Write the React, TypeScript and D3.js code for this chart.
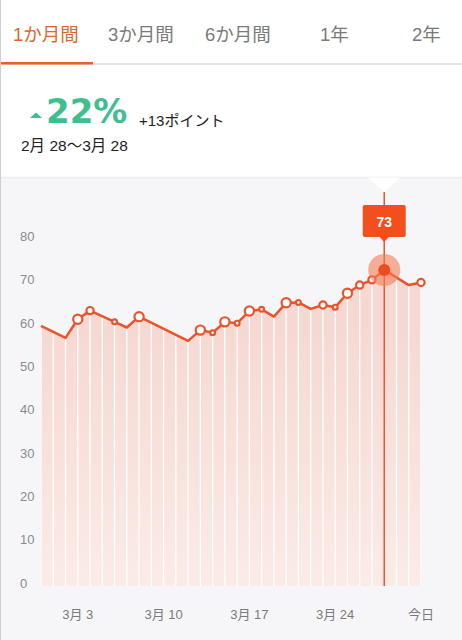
import React, { useEffect, useRef } from "react";
import * as d3 from "d3";

// 2/28 .. 今日 (3/31), one entry per day; null = no record that day
const dayIndex = d3.range(32);
const values: (number | null)[] = [
  60.1, null, 57.3, 61.6, 63.6, null, 61.0, 59.7, 62.2, null, null, null,
  56.6, 59.1, 58.5, 61.0, 60.7, 63.5, 63.9, 62.2, 65.4, 65.5, 64.0, 64.9,
  64.4, 67.6, 69.5, 70.7, 73, null, 69.5, 70.1,
];
// marker size per day: 0 none, 1 small, 2 medium, 3 large
const markers = [
  0, 0, 0, 3, 2, 0, 1, 0, 3, 0, 0, 0, 0, 3, 1, 3, 1, 3, 1, 0, 3, 1, 0, 2, 1, 3,
  2, 2, 0, 0, 0, 2,
];
const highlightDay = 28;
const xTickDays = [3, 10, 17, 24, 31];
const xTickLabels = ["3月 3", "3月 10", "3月 17", "3月 24", "今日"];
const yTicks = [0, 10, 20, 30, 40, 50, 60, 70, 80];
const tabs = ["1か月間", "3か月間", "6か月間", "1年", "2年"];
const tabX = [13, 108, 205, 320, 412];

const W = 462;
const H = 640;
const FONT = "'Liberation Sans', 'Noto Sans CJK JP', sans-serif";

const App: React.FC = () => {
  const svgRef = useRef<SVGSVGElement | null>(null);

  useEffect(() => {
    if (!svgRef.current) return;
    const svg = d3.select(svgRef.current);
    svg.selectAll("*").remove();

    const orange = "#e9542c";

    // fond
    svg.append("rect").attr("width", W).attr("height", H).attr("fill", "#fff");
    svg
      .append("rect")
      .attr("y", 177.5)
      .attr("width", W)
      .attr("height", H - 177.5)
      .attr("fill", "#f6f6f8");
    svg
      .append("line")
      .attr("x1", 0)
      .attr("x2", W)
      .attr("y1", 177.5)
      .attr("y2", 177.5)
      .style("stroke", "#ececef")
      .style("stroke-width", 1.5);

    // onglets
    tabs.forEach((t, i) => {
      svg
        .append("text")
        .attr("x", tabX[i])
        .attr("y", 41)
        .attr("font-family", FONT)
        .attr("font-size", 18.5)
        .attr("fill", i === 0 ? "#e0642a" : "#7a7a7a")
        .text(t);
    });
    svg
      .append("line")
      .attr("x1", 0)
      .attr("x2", W)
      .attr("y1", 64)
      .attr("y2", 64)
      .style("stroke", "#dcdcdc")
      .style("stroke-width", 1.5);
    svg
      .append("rect")
      .attr("x", 0)
      .attr("y", 62)
      .attr("width", 93)
      .attr("height", 2.5)
      .attr("fill", "#e0642a");

    // entête
    svg
      .append("path")
      .attr("d", "M30,118 L36,112.5 L42,118 Z")
      .attr("fill", "#3dbf90");
    svg
      .append("text")
      .attr("x", 46)
      .attr("y", 123)
      .attr("font-family", "'DejaVu Sans', sans-serif")
      .attr("font-size", 34)
      .attr("font-weight", "bold")
      .attr("fill", "#3dbf90")
      .text("22%");
    svg
      .append("text")
      .attr("x", 139)
      .attr("y", 126)
      .attr("font-family", FONT)
      .attr("font-size", 15)
      .attr("fill", "#222")
      .text("+13ポイント");
    svg
      .append("text")
      .attr("x", 21)
      .attr("y", 151)
      .attr("font-family", FONT)
      .attr("font-size", 15.5)
      .attr("fill", "#222")
      .text("2月 28〜3月 28");

    // échelles
    const x = d3.scaleLinear().domain([0, 31]).range([41, 421]);
    const y = d3.scaleLinear().domain([0, 80]).range([586, 239.6]);

    const pts = dayIndex
      .filter((i) => values[i] !== null)
      .map((i) => ({ i, v: values[i] as number, m: markers[i] }));

    const defs = svg.append("defs");
    const grad = defs
      .append("linearGradient")
      .attr("id", "areaGrad")
      .attr("gradientUnits", "userSpaceOnUse")
      .attr("x1", 0)
      .attr("x2", 0)
      .attr("y1", y(60))
      .attr("y2", y(0));
    grad.append("stop").attr("offset", "0%").attr("stop-color", "#f6d8d2");
    grad.append("stop").attr("offset", "100%").attr("stop-color", "#fbebe7");

    const area = d3
      .area<{ i: number; v: number }>()
      .x((d) => x(d.i))
      .y0(y(0))
      .y1((d) => y(d.v));
    defs
      .append("clipPath")
      .attr("id", "areaClip")
      .append("path")
      .attr("d", area(pts)!);

    svg.append("path").attr("d", area(pts)!).attr("fill", "url(#areaGrad)");

    // séparations verticales blanches
    svg
      .append("g")
      .attr("clip-path", "url(#areaClip)")
      .selectAll("line")
      .data(dayIndex)
      .enter()
      .append("line")
      .attr("x1", (d) => x(d))
      .attr("x2", (d) => x(d))
      .attr("y1", y(80))
      .attr("y2", y(0))
      .style("stroke", "#fff")
      .style("stroke-width", 1.3);

    // axe Y
    svg
      .append("g")
      .selectAll("text")
      .data(yTicks)
      .enter()
      .append("text")
      .attr("x", 20)
      .attr("y", (d) => y(d) + 1.5)
      .attr("font-family", FONT)
      .attr("font-size", 13)
      .attr("fill", "#8a8a8e")
      .text((d) => d);

    // axe X
    svg
      .append("g")
      .selectAll("text")
      .data(xTickDays)
      .enter()
      .append("text")
      .attr("x", (d) => x(d))
      .attr("y", 619)
      .attr("text-anchor", "middle")
      .attr("font-family", FONT)
      .attr("font-size", 13)
      .attr("fill", "#7a7a7e")
      .text((d, i) => xTickLabels[i]);

    // encoche blanche + ligne verticale
    const hx = x(highlightDay);
    svg
      .append("path")
      .attr("d", `M${hx - 16},177.5 L${hx},192 L${hx + 16},177.5 Z`)
      .attr("fill", "#fff");
    svg
      .append("line")
      .attr("x1", hx)
      .attr("x2", hx)
      .attr("y1", 192)
      .attr("y2", y(0))
      .style("stroke", orange)
      .style("stroke-width", 1.5);

    // courbe
    const line = d3
      .line<{ i: number; v: number }>()
      .x((d) => x(d.i))
      .y((d) => y(d.v));
    svg
      .append("path")
      .attr("d", line(pts)!)
      .attr("fill", "none")
      .style("stroke", orange)
      .style("stroke-width", 2.5)
      .style("stroke-linejoin", "round");

    const radius = [0, 2.4, 3.6, 4.6];
    svg
      .append("g")
      .selectAll("circle")
      .data(pts.filter((d) => d.m > 0))
      .enter()
      .append("circle")
      .attr("cx", (d) => x(d.i))
      .attr("cy", (d) => y(d.v))
      .attr("r", (d) => radius[d.m])
      .attr("fill", "#fff")
      .style("stroke", orange)
      .style("stroke-width", 2.2);

    // point mis en évidence
    const hv = values[highlightDay] as number;
    svg
      .append("circle")
      .attr("cx", hx)
      .attr("cy", y(hv))
      .attr("r", 16)
      .attr("fill", "#f57d55")
      .attr("fill-opacity", 0.6);
    svg
      .append("circle")
      .attr("cx", hx)
      .attr("cy", y(hv))
      .attr("r", 6)
      .attr("fill", "#ee4b22");

    // bulle
    svg
      .append("rect")
      .attr("x", hx - 21.5)
      .attr("y", 205)
      .attr("width", 43)
      .attr("height", 32)
      .attr("rx", 2)
      .attr("fill", "#f24e1e");
    svg
      .append("path")
      .attr("d", `M${hx - 5},236.5 L${hx},242 L${hx + 5},236.5 Z`)
      .attr("fill", "#f24e1e");
    svg
      .append("text")
      .attr("x", hx)
      .attr("y", 227)
      .attr("text-anchor", "middle")
      .attr("font-family", FONT)
      .attr("font-size", 14)
      .attr("font-weight", "bold")
      .attr("fill", "#fff")
      .text(hv);

    // bord gauche
    svg
      .append("line")
      .attr("x1", 0.5)
      .attr("x2", 0.5)
      .attr("y1", 0)
      .attr("y2", H)
      .style("stroke", "#cfcfcf")
      .style("stroke-width", 1);
  }, []);

  return (
    <div style={{ position: "absolute", left: 0, top: 0 }}>
      <svg ref={svgRef} width={W} height={H} style={{ display: "block" }}></svg>
    </div>
  );
};

export default App;
